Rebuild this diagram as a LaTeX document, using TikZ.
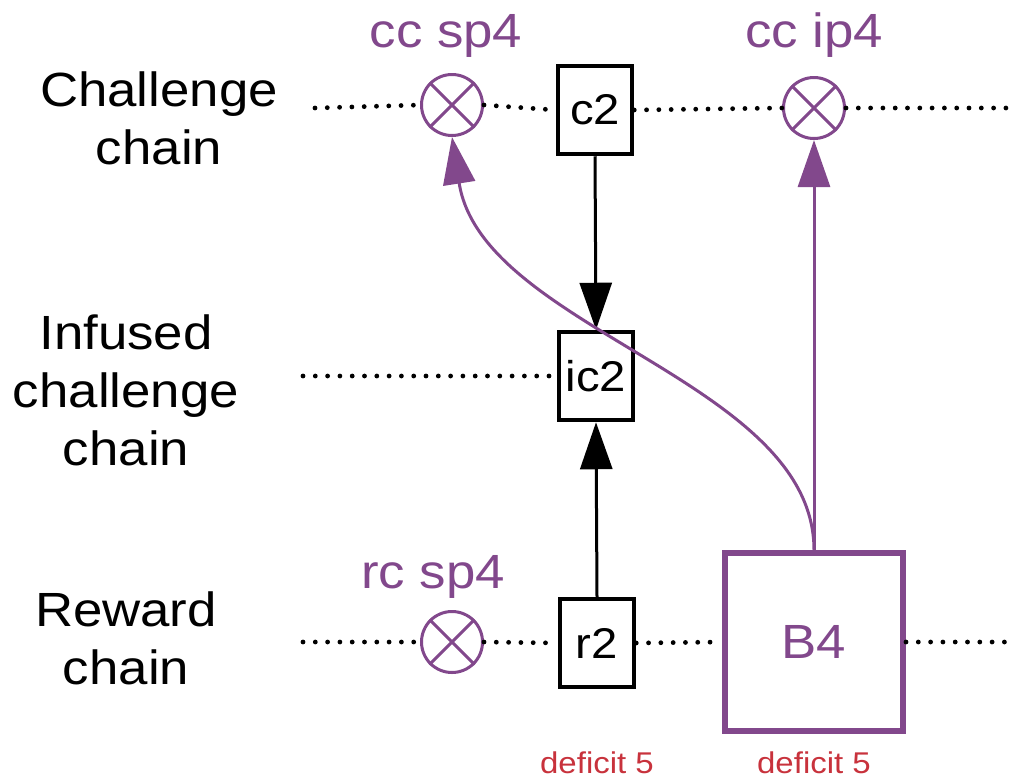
\documentclass[tikz,border=0pt]{standalone}
\usepackage{fontspec}
\setmainfont[FakeStretch=1.1]{Liberation Sans}
\usetikzlibrary{arrows.meta}
\definecolor{vdfpurple}{RGB}{130,72,140}
\definecolor{defred}{RGB}{200,50,60}
\begin{document}
\begin{tikzpicture}[x=1pt,y=-1pt,
  blockbox/.style={draw=black, line width=4.5pt, fill=white, minimum width=74pt, minimum height=88pt, inner sep=0pt, font=\fontsize{43}{50}\selectfont},
  bigbox/.style={draw=vdfpurple, line width=6pt, fill=white, minimum width=178pt, minimum height=178pt, inner sep=0pt, text=vdfpurple, font=\fontsize{48}{56}\selectfont},
  vdfpt/.style={circle, draw=vdfpurple, line width=3pt, fill=white, minimum size=61pt, inner sep=0pt},
  xmark/.style={draw=vdfpurple, line width=3pt},
  rowlabel/.style={align=center, inner sep=0pt, font=\fontsize{48}{58}\selectfont},
  ptlabel/.style={anchor=base, inner sep=0pt, text=vdfpurple, font=\fontsize{48}{58}\selectfont},
  deflabel/.style={anchor=base, inner sep=0pt, text=defred, font=\fontsize{30}{36}\selectfont},
  dotline/.style={draw=black, line width=4.8pt, line cap=round, dash pattern=on 0pt off 12.3pt},
  blackarrow/.style={draw=black, line width=3pt, -{Triangle[length=47pt,width=32pt]}},
  purplearrow/.style={draw=vdfpurple, line width=3pt, -{Triangle[length=47pt,width=32pt]}}
]
\useasboundingbox (0,0) rectangle (1015,780);

% row labels
\node[rowlabel] (lcc) at (159,118) {Challenge\\chain};
\node[rowlabel] (lic) at (126,390) {Infused\\challenge\\chain};
\node[rowlabel] (lrc) at (126,638) {Reward\\chain};

% free ends of the chain lines
\coordinate (ccstart) at (315,108);
\coordinate (ccend) at (1009,108);
\coordinate (icstart) at (303,376);
\coordinate (rcstart) at (303,642);
\coordinate (rcend) at (1009,642);

% nodes
\node[vdfpt] (ccsp) at (452,105) {};
\node[blockbox] (c2) at (595,110) {c2};
\node[vdfpt] (ccip) at (814,108) {};
\node[blockbox] (ic2) at (596,376) {ic2};
\node[vdfpt] (rcsp) at (452,642) {};
\node[blockbox] (r2) at (597,643) {r2};
\node[bigbox] (b4) at (814,642) {B4};

% crosses in the points
\draw[xmark] (ccsp.north west) -- (ccsp.south east) (ccsp.north east) -- (ccsp.south west);
\draw[xmark] (ccip.north west) -- (ccip.south east) (ccip.north east) -- (ccip.south west);
\draw[xmark] (rcsp.north west) -- (rcsp.south east) (rcsp.north east) -- (rcsp.south west);

% dotted chain lines
\draw[dotline] (ccstart) -- (ccsp.west);
\draw[dotline] (ccsp.east) -- (c2.west);
\draw[dotline] (c2.east) -- (ccip.west);
\draw[dotline] (ccip.east) -- (ccend);
\draw[dotline] (icstart) -- (ic2.west);
\draw[dotline] (rcstart) -- (rcsp.west);
\draw[dotline] (rcsp.east) -- (r2.west);
\draw[dotline] (r2.east) -- (b4.west);
\draw[dotline] (b4.east) -- (rcend);

% labels
\node[ptlabel] (lccsp) at (446,47) {cc sp4};
\node[ptlabel] (lccip) at (814,47) {cc ip4};
\node[ptlabel] (lrcsp) at (433,588) {rc sp4};
\node[deflabel] (d1) at (597,773) {deficit 5};
\node[deflabel] (d2) at (814,773) {deficit 5};

% arrows
\draw[blackarrow] (c2.south) -- (ic2.north);
\draw[blackarrow] (r2.north) -- (ic2.south);
\draw[purplearrow] (b4.north) -- (ccip.south);
\draw[purplearrow] (b4.north) .. controls (814,380) and (482,330) .. (ccsp.south);
\end{tikzpicture}
\end{document}
